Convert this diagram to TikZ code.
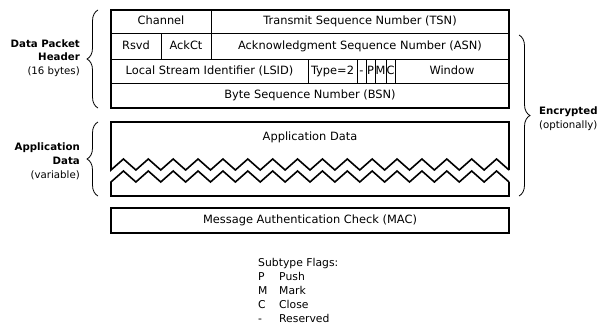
\documentclass[tikz,border=0pt]{standalone}
\usepackage{fontspec}
\setmainfont{DejaVu Sans}
\usetikzlibrary{positioning, decorations.pathreplacing, calc}

\tikzset{
    box/.style={line width=1.6pt, line join=miter},
    field/.style={line width=0.8pt},
    txt/.style={inner sep=0pt, text height=1.6ex, text depth=.45ex},
    brace/.style={decorate, decoration={brace, amplitude=11pt, aspect=0.5}, line width=0.8pt},
    side/.style={inner sep=0pt, align=right, anchor=east, font=\fontsize{10.2}{13.8}\selectfont},
    flag/.style={anchor=base west, inner sep=0pt, font=\fontsize{10.8}{13}\selectfont}
}

\begin{document}
\begin{tikzpicture}[x=1pt, y=-1pt, font=\fontsize{11.4}{13.5}\selectfont]
    \useasboundingbox (0,0) rectangle (601,327);
    % Header rows and cells
    \draw [field] (111,33) -- (509,33);
    \draw [field] (111,59) -- (509,59);
    \draw [field] (111,83) -- (509,83);
    \draw [field] (211,10) -- (211,59);
    \draw [field] (161,33) -- (161,59);
    \foreach \x in {308,357,366,375,386,395}
        \draw [field] (\x,59) -- (\x,83);
    \draw [box] (111,10) rectangle (509,108);
    \node [txt] (chan) at (161,21.5) {Channel};
    \node [txt] (tsn) at (360,21.5) {Transmit Sequence Number (TSN)};
    \node [txt] (rsvd) at (136,46) {Rsvd};
    \node [txt] (ackct) at (186,46) {AckCt};
    \node [txt] (asn) at (360,46) {Acknowledgment Sequence Number (ASN)};
    \node [txt] (lsid) at (209.5,71) {Local Stream Identifier (LSID)};
    \node [txt] (type) at (332.5,71) {Type=2};
    \node [txt] (resv) at (361.5,71) {-};
    \node [txt] (pflag) at (370.5,71) {P};
    \node [txt] (mflag) at (380.5,71) {M};
    \node [txt] (cflag) at (390.5,71) {C};
    \node [txt] (win) at (452,71) {Window};
    \node [txt] (bsn) at (310,95.5) {Byte Sequence Number (BSN)};
    % Application data, cut open
    \draw [box] (509,170) -- (509,122) -- (111,122) -- (111,170)
        \foreach \i in {1,...,16} { -- ++(12.4375,-11) -- ++(12.4375,11) };
    \draw [box] (509,182) -- (509,196) -- (111,196) -- (111,182)
        \foreach \i in {1,...,16} { -- ++(12.4375,-11) -- ++(12.4375,11) };
    \node [txt] (appdata) at (310,137) {Application Data};
    % MAC
    \draw [box] (111,208) rectangle (509,233);
    \node [txt] (mac) at (310,220.5) {Message Authentication Check (MAC)};
    % Braces
    \coordinate (hdrbot) at (98,108);
    \coordinate (hdrtop) at (98,10);
    \coordinate (appbot) at (98,196);
    \coordinate (apptop) at (98,122);
    \coordinate (enctop) at (519,35);
    \coordinate (encbot) at (519,196);
    \draw [brace] (hdrbot) -- (hdrtop);
    \draw [brace] (appbot) -- (apptop);
    \draw [brace] (enctop) -- (encbot);
    \node [side] (hdrlbl) at (80,58) {\textbf{Data Packet}\\\textbf{Header}\\(16 bytes)};
    \node [side] (applbl) at (80,161) {\textbf{Application}\\\textbf{Data}\\(variable)};
    \node [side, align=left, anchor=west] (enclbl) at (539,118.5) {\textbf{Encrypted}\\(optionally)};
    % Subtype flags
    \node [flag] (flags) at (258,266) {Subtype Flags:};
    \foreach \f/\n [count=\i] in {P/Push, M/Mark, C/Close, -/Reserved} {
        \node [flag] (key\i) at (258,266+14.2*\i) {\f};
        \node [flag] (val\i) at (279,266+14.2*\i) {\n};
    }
\end{tikzpicture}
\end{document}
